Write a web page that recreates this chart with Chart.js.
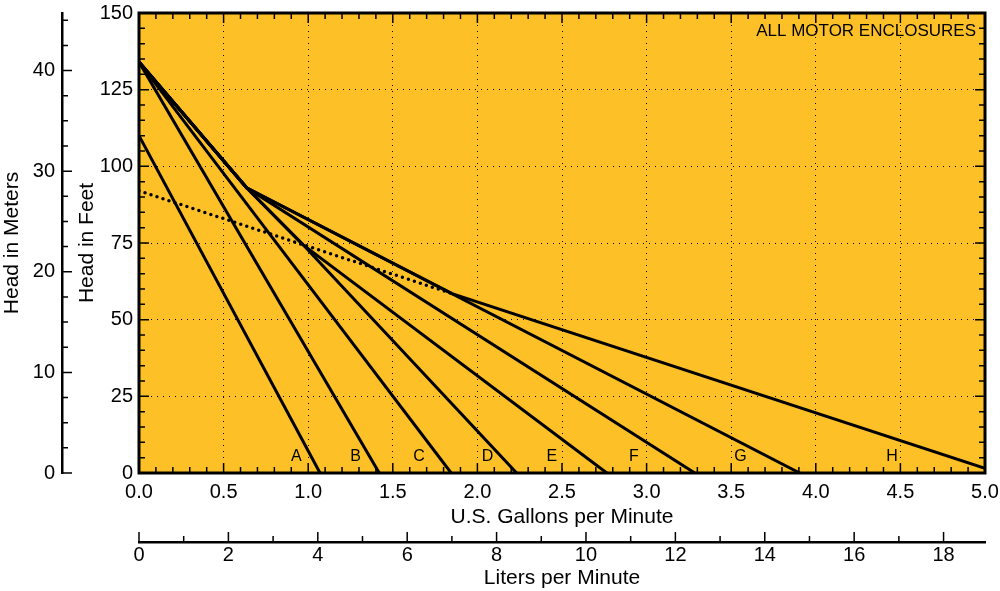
<!DOCTYPE html>
<html>
<head>
<meta charset="utf-8">
<script src="https://cdn.jsdelivr.net/npm/chart.js@4.4.0/dist/chart.umd.min.js"></script>
<style>
    html, body { margin: 0; padding: 0; background: #fff; }
    #wrap { width: 1000px; height: 591px; }
</style>
</head>
<body>
<div id="wrap"><canvas id="pumpChart"></canvas></div>
<script>
// ================================
// Pump performance curves
// flow in U.S. gallons per minute, head in feet
// ================================

const curveNames = ["A", "B", "C", "D", "E", "F", "G", "H"];

const gpmA = [0, 1.07];
const ftA  = [110, 0];
const gpmB = [0, 1.42];
const ftB  = [134, 0];
const gpmC = [0, 1.845];
const ftC  = [134, 0];
const gpmD = [0, 0.636, 0.97, 2.232];
const ftD  = [134, 93, 74.4, 0];
const gpmE = [0, 0.636, 0.97, 2.765];
const ftE  = [134, 93, 74.4, 0];
const gpmF = [0, 0.636, 3.285];
const ftF  = [134, 93, 0];
const gpmG = [0, 0.636, 3.905];
const ftG  = [134, 93, 0];
const gpmH = [0, 0.636, 1.85, 5.0];
const ftH  = [134, 93, 58.5, 1.5];

// dotted extension of curve H
const gpmHDot = [0, 1.85];
const ftHDot  = [92, 58.5];

// where the letters sit
const labelGpm = [0.93, 1.28, 1.655, 2.06, 2.44, 2.925, 3.555, 4.45];
const labelFt = 5.5;

// tick labels
const gpmTicks    = [0, 0.5, 1, 1.5, 2, 2.5, 3, 3.5, 4, 4.5, 5];
const feetTicks   = [0, 25, 50, 75, 100, 125, 150];
const meterTicks  = [0, 10, 20, 30, 40];
const literTicks  = [0, 2, 4, 6, 8, 10, 12, 14, 16, 18];

const FT_PER_M = 3.28084;
const L_PER_GAL = 3.78541;

const PLOT_BG = "#fdc127";
const FONT = "'Liberation Sans', Arial, Helvetica, sans-serif";
const NO_TICK = "rgba(0,0,0,0)";

Chart.defaults.font.family = FONT;
Chart.defaults.font.size = 20;
Chart.defaults.color = "#000";

function pts(xs, ys) {
    return xs.map((v, i) => ({ x: v, y: ys[i] }));
}

function setTicks(list) {
    return scale => { scale.ticks = list.map(v => ({ value: v })); };
}

const series = [
    [gpmA, ftA], [gpmB, ftB], [gpmC, ftC], [gpmD, ftD],
    [gpmE, ftE], [gpmF, ftF], [gpmG, ftG], [gpmH, ftH]
];

const datasets = series.map((s, i) => ({
    label: curveNames[i],
    data: pts(s[0], s[1]),
    showLine: true,
    borderColor: "#000",
    borderWidth: 3,
    pointRadius: 0,
    tension: 0,
    fill: false
}));

datasets.push({
    label: "H (extended)",
    data: pts(gpmHDot, ftHDot),
    showLine: true,
    borderColor: "#000",
    borderWidth: 3.5,
    borderDash: [0, 6.3],
    borderCapStyle: "round",
    pointRadius: 0,
    tension: 0,
    fill: false
});

const plotDecor = {
    id: "plotDecor",
    beforeDraw(chart) {
        const { ctx, chartArea: a } = chart;
        ctx.save();
        ctx.fillStyle = PLOT_BG;
        ctx.fillRect(a.left, a.top, a.right - a.left, a.bottom - a.top);
        ctx.restore();
    },
    afterDraw(chart) {
        const { ctx, chartArea: a, scales } = chart;
        const x = scales.x, y = scales.y, xl = scales.xl, ym = scales.ym;

        ctx.save();
        ctx.strokeStyle = "#000";
        ctx.lineWidth = 1.5;
        ctx.beginPath();

        // inward ticks on the plot frame
        for (let i = 0; i <= 50; i++) {
            const px = x.getPixelForValue(i / 10);
            const len = i % 5 === 0 ? 10 : 6;
            ctx.moveTo(px, a.bottom); ctx.lineTo(px, a.bottom - len);
            ctx.moveTo(px, a.top); ctx.lineTo(px, a.top + len);
        }
        for (let v = 0; v <= 150; v += 5) {
            const py = y.getPixelForValue(v);
            const len = v % 25 === 0 ? 10 : 6;
            ctx.moveTo(a.left, py); ctx.lineTo(a.left + len, py);
            ctx.moveTo(a.right, py); ctx.lineTo(a.right - len, py);
        }

        // meters axis, ticks point right
        for (let m = 0; m <= 45; m += 2.5) {
            const py = ym.getPixelForValue(m);
            const len = m % 10 === 0 ? 10 : 6;
            ctx.moveTo(ym.right, py); ctx.lineTo(ym.right + len, py);
        }

        // liters axis, ticks point up
        for (let l = 0; l <= 18; l++) {
            const px = xl.getPixelForValue(l);
            const len = l % 2 === 0 ? 10 : 6;
            ctx.moveTo(px, xl.top); ctx.lineTo(px, xl.top - len);
        }
        ctx.stroke();

        // frame
        ctx.lineWidth = 3;
        ctx.strokeRect(a.left, a.top, a.right - a.left, a.bottom - a.top);

        // curve letters
        ctx.fillStyle = "#000";
        ctx.font = "16px " + FONT;
        ctx.textAlign = "center";
        ctx.textBaseline = "middle";
        curveNames.forEach((n, i) => {
            ctx.fillText(n, x.getPixelForValue(labelGpm[i]), y.getPixelForValue(labelFt));
        });

        ctx.font = "17px " + FONT;
        ctx.textAlign = "right";
        ctx.fillText("ALL MOTOR ENCLOSURES", a.right - 9, a.top + 18);
        ctx.restore();
    }
};

const ctx = document.getElementById("pumpChart");

new Chart(ctx, {

    type: "scatter",

    data: { datasets: datasets },

    plugins: [plotDecor],

    options: {

        responsive: true,
        maintainAspectRatio: false,
        animation: false,
        events: [],

        layout: { padding: { top: 13, right: 15, left: 0, bottom: 0 } },

        plugins: {
            legend: { display: false },
            tooltip: { enabled: false }
        },

        scales: {

            x: {
                type: "linear",
                position: "bottom",
                weight: 0,
                min: 0,
                max: 5,
                afterBuildTicks: setTicks(gpmTicks),
                afterFit: s => { s.height = 69; },
                ticks: {
                    padding: 0,
                    maxRotation: 0,
                    autoSkip: false,
                    callback: v => v.toFixed(1)
                },
                grid: { color: "#000", lineWidth: 1, drawTicks: true, tickLength: 7, tickColor: NO_TICK },
                border: { display: false, dash: [1, 5] },
                title: {
                    display: true,
                    text: "U.S. Gallons per Minute",
                    font: { size: 21 },
                    padding: { top: 0, bottom: 12.5 }
                }
            },

            xl: {
                type: "linear",
                position: "bottom",
                weight: 1,
                min: 0,
                max: 5 * L_PER_GAL,
                afterBuildTicks: setTicks(literTicks),
                afterFit: s => { s.height = 49; },
                ticks: { padding: 0, maxRotation: 0, autoSkip: false },
                grid: { display: true, drawOnChartArea: false, drawTicks: true, tickLength: 1, tickColor: NO_TICK },
                border: { display: true, color: "#000", width: 2.5 },
                title: {
                    display: true,
                    text: "Liters per Minute",
                    font: { size: 21 },
                    padding: { top: 0, bottom: 0 }
                }
            },

            y: {
                type: "linear",
                position: "left",
                weight: 0,
                min: 0,
                max: 150,
                afterBuildTicks: setTicks(feetTicks),
                afterFit: s => { s.width = 77; },
                ticks: { padding: 0 },
                grid: { color: "#000", lineWidth: 1, drawTicks: true, tickLength: 6, tickColor: NO_TICK },
                border: { display: false, dash: [1, 5] },
                title: {
                    display: true,
                    text: "Head in Feet",
                    font: { size: 21 },
                    padding: { top: 13, bottom: 0 }
                }
            },

            ym: {
                type: "linear",
                position: "left",
                weight: 1,
                min: 0,
                max: 150 / FT_PER_M,
                afterBuildTicks: setTicks(meterTicks),
                afterFit: s => { s.width = 62; },
                ticks: { padding: 0 },
                grid: { display: true, drawOnChartArea: false, drawTicks: true, tickLength: 7, tickColor: NO_TICK },
                border: { display: true, color: "#000", width: 2.5 },
                title: {
                    display: true,
                    text: "Head in Meters",
                    font: { size: 21 },
                    padding: { top: 0, bottom: 0 }
                }
            }
        }
    }
});
</script>
</body>
</html>
